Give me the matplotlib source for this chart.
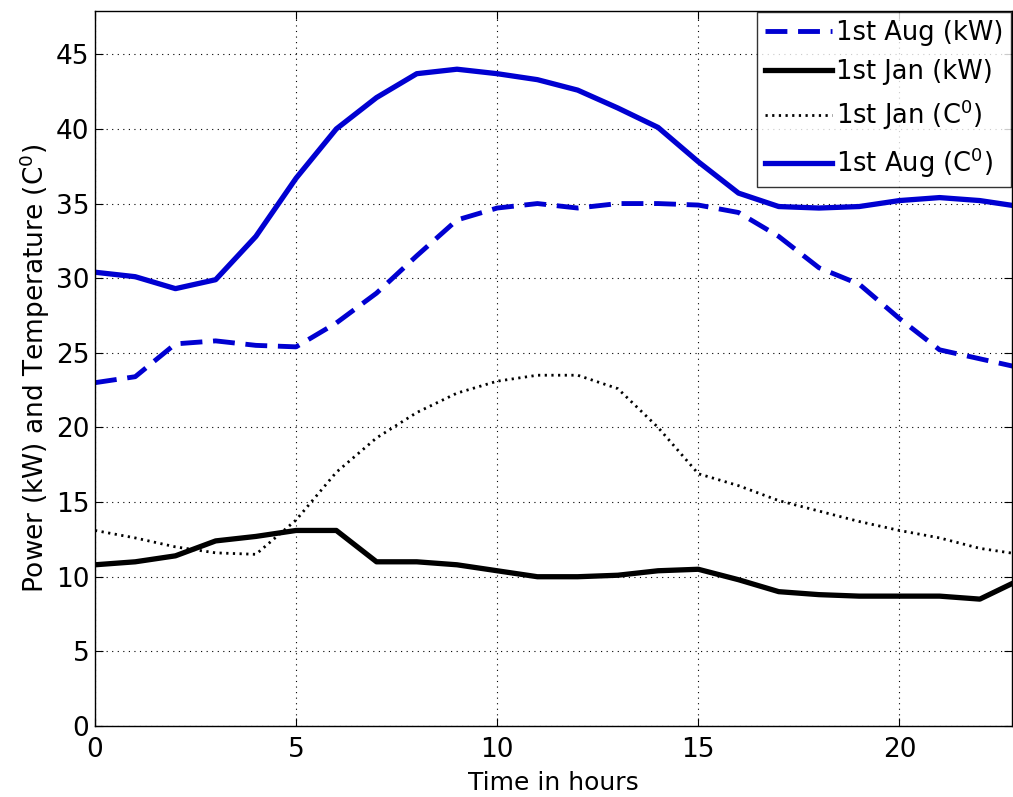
import matplotlib
matplotlib.use('Agg')
import matplotlib.pyplot as plt

plt.rcParams['font.family'] = ['DejaVu Sans']
plt.rcParams['mathtext.default'] = 'regular'

hours = list(range(24))
aug_kw = [23.0, 23.4, 25.6, 25.8, 25.5, 25.4, 27.0, 29.0, 31.5, 33.9, 34.7, 35.0,
          34.7, 35.0, 35.0, 34.9, 34.4, 32.8, 30.7, 29.6, 27.3, 25.2, 24.6, 24.0]
jan_kw = [10.8, 11.0, 11.4, 12.4, 12.7, 13.1, 13.1, 11.0, 11.0, 10.8, 10.4, 10.0,
          10.0, 10.1, 10.4, 10.5, 9.8, 9.0, 8.8, 8.7, 8.7, 8.7, 8.5, 9.8]
jan_temp = [13.1, 12.6, 12.0, 11.6, 11.5, 13.8, 17.0, 19.3, 21.0, 22.3, 23.1, 23.5,
            23.5, 22.6, 20.0, 16.9, 16.1, 15.1, 14.4, 13.7, 13.1, 12.6, 11.9, 11.5]
aug_temp = [30.4, 30.1, 29.3, 29.9, 32.8, 36.7, 40.0, 42.1, 43.7, 44.0, 43.7, 43.3,
            42.6, 41.4, 40.1, 37.8, 35.7, 34.8, 34.7, 34.8, 35.2, 35.4, 35.2, 34.8]

blue = (0.0, 0.0, 0.82)

fig = plt.figure(figsize=(10.13, 7.97), dpi=100)
ax = fig.add_axes([95/1013, 71/797, 917/1013, 715/797])

ax.plot(hours, aug_kw, color=blue, lw=3.5, linestyle=(0, (4.5, 2.2)), label='1st Aug (kW)')
ax.plot(hours, jan_kw, color='black', lw=3.8, label='1st Jan (kW)')
ax.plot(hours, jan_temp, color='black', lw=2, linestyle=(0, (0.8, 1.6)), label='1st Jan (C$^0$)')
ax.plot(hours, aug_temp, color=blue, lw=3.8, label='1st Aug (C$^0$)')

ax.set_xlim(0, 22.8)
ax.set_ylim(0, 47.9)
ax.set_xticks([0, 5, 10, 15, 20])
ax.set_yticks(range(0, 50, 5))
ax.grid(True, color='black', linestyle=(0, (1, 4)), linewidth=0.8)
ax.tick_params(direction='in', length=6, labelsize=19, top=True, right=True, pad=4)
ax.tick_params(axis='x', pad=8)
for s in ax.spines.values():
    s.set_linewidth(1)

ax.set_xlabel('Time in hours', fontsize=18, labelpad=6)
ax.set_ylabel('Power (kW) and Temperature (C$^0$)', fontsize=19, labelpad=3)

leg = ax.legend(loc='upper right', fontsize=18.5, frameon=True, fancybox=False,
                edgecolor='black', borderaxespad=0.05, handlelength=2.6,
                handletextpad=0.15, labelspacing=0.5, borderpad=0.3)
leg.get_frame().set_linewidth(1)

fig.savefig('out.png', dpi=100)
